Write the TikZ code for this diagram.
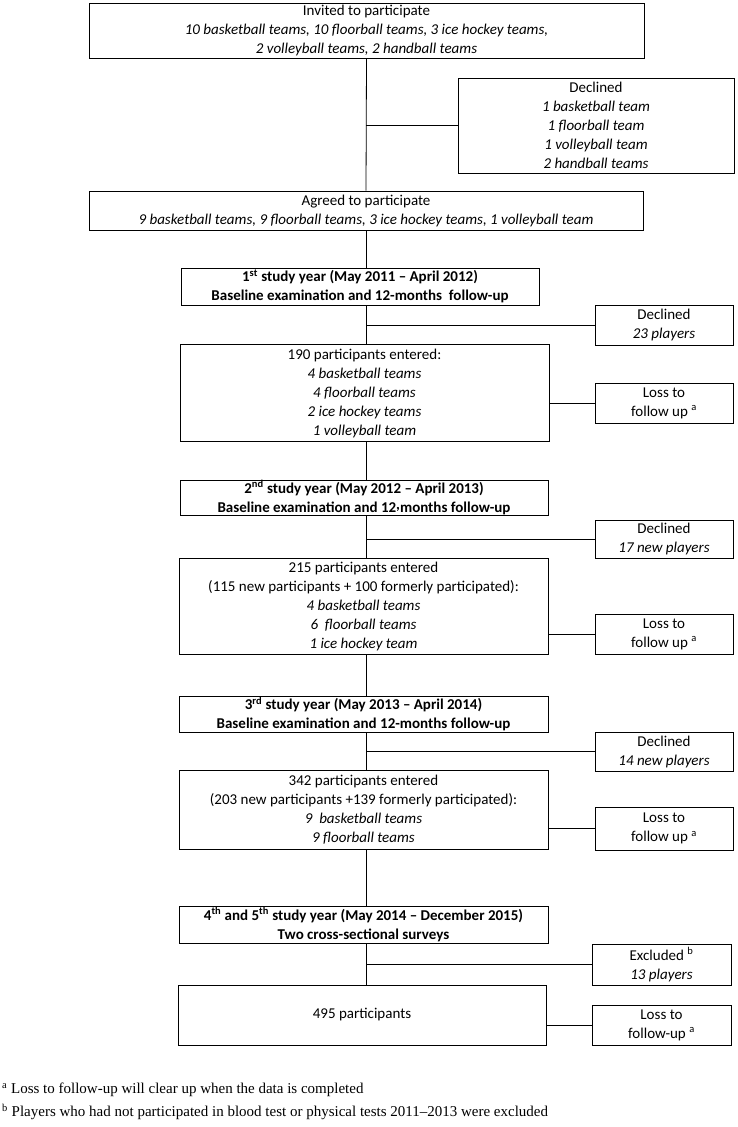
\documentclass[tikz,border=0pt]{standalone}
\usepackage{fontspec}
\setmainfont{Carlito}
\newfontfamily\fnfont[Ligatures=TeX]{Liberation Serif}
\begin{document}
\begin{tikzpicture}[x=1pt,y=-1pt,
  box/.style={draw, line width=0.8pt, inner sep=0pt, align=center,
    font=\fontsize{15}{19}\selectfont},
  link/.style={draw, line width=0.8pt},
  foot/.style={anchor=west, inner sep=0pt, font=\fnfont\fontsize{15}{17}\selectfont}]
\useasboundingbox (0,0) rectangle (737,1127);
\coordinate (sp) at (366,0);
\node[box, minimum width=555, minimum height=55] (invited) at (366.5,30.5)
  {Invited to participate\\ \textit{10 basketball teams, 10 floorball teams, 3 ice hockey teams,}\\ \textit{2 volleyball teams, 2 handball teams}};
\node[box, minimum width=276, minimum height=95] (dec0) at (596,125.5)
  {Declined\\ \textit{1 basketball team}\\ \textit{1 floorball team}\\ \textit{1 volleyball team}\\ \textit{2 handball teams}};
\node[box, minimum width=554, minimum height=39] (agreed) at (366,210.5)
  {Agreed to participate\\ \textit{9 basketball teams, 9 floorball teams, 3 ice hockey teams, 1 volleyball team}};
\node[box, minimum width=358, minimum height=37] (s1) at (360,286.5)
  {\textbf{1\textsuperscript{st} study year (May 2011 -- April 2012)}\\ \textbf{Baseline examination and 12-months\ \ follow-up}};
\node[box, minimum width=138, minimum height=40] (dec1) at (664,325)
  {Declined\\ \textit{23 players}};
\node[box, minimum width=369, minimum height=97] (p1) at (364.5,393)
  {190 participants entered:\\ \textit{4 basketball teams}\\ \textit{4 floorball teams}\\ \textit{2 ice hockey teams}\\ \textit{1 volleyball team}};
\node[box, minimum width=138, minimum height=40] (loss1) at (664,403)
  {Loss to\\ follow up \textsuperscript{a}};
\node[box, minimum width=368, minimum height=35] (s2) at (364,497.5)
  {\textbf{2\textsuperscript{nd} study year (May 2012 -- April 2013)}\\ \textbf{Baseline examination and 12\raisebox{.35ex}{,}months follow-up}};
\node[box, minimum width=138, minimum height=38] (dec2) at (664,539)
  {Declined\\ \textit{17 new players}};
\node[box, minimum width=369, minimum height=96] (p2) at (363.5,606)
  {215 participants entered\\ (115 new participants + 100 formerly participated):\\ \textit{4 basketball teams}\\ \textit{6\ \ floorball teams}\\ \textit{1 ice hockey team}};
\node[box, minimum width=138, minimum height=40] (loss2) at (664,634)
  {Loss to\\ follow up \textsuperscript{a}};
\node[box, minimum width=369, minimum height=36] (s3) at (363.5,714)
  {\textbf{3\textsuperscript{rd} study year (May 2013 -- April 2014)}\\ \textbf{Baseline examination and 12-months follow-up}};
\node[box, minimum width=138, minimum height=39] (dec3) at (664,751.5)
  {Declined\\ \textit{14 new players}};
\node[box, minimum width=369, minimum height=79] (p3) at (363.5,809.5)
  {342 participants entered\\ (203 new participants +139 formerly participated):\\ \textit{9\ \ basketball teams}\\ \textit{9 floorball teams}};
\node[box, minimum width=138, minimum height=43] (loss3) at (664,828.5)
  {Loss to\\ follow up \textsuperscript{a}};
\node[box, minimum width=369, minimum height=37] (s4) at (363.5,924.5)
  {\textbf{4\textsuperscript{th} and 5\textsuperscript{th} study year (May 2014 -- December 2015)}\\ \textbf{Two cross-sectional surveys}};
\node[box, minimum width=139, minimum height=41] (excl) at (661.5,964.5)
  {Excluded \textsuperscript{b}\\ \textit{13 players}};
\node[box, minimum width=368, minimum height=60] (p4) at (362,1015)
  {495 participants};
\node[box, minimum width=139, minimum height=40] (loss4) at (661.5,1025)
  {Loss to\\ follow-up \textsuperscript{a}};
\node[foot] (fa) at (2,1090) {\textsuperscript{a} Loss to follow-up will clear up when the data is completed};
\node[foot] (fb) at (2,1112) {\textsuperscript{b} Players who had not participated in blood test or physical tests 2011--2013 were excluded};
% connectors
\draw[link] (invited.south) -- (agreed.north);
\draw[link] (sp |- dec0.west) -- (dec0.west);
\draw[link] (sp |- agreed.south) -- (sp |- s1.north);
\draw[link] (sp |- s1.south) -- (sp |- p1.north);
\draw[link] (sp |- dec1.west) -- (dec1.west);
\draw[link] (p1.east |- loss1.west) -- (loss1.west);
\draw[link] (sp |- p1.south) -- (sp |- s2.north);
\draw[link] (sp |- s2.south) -- (sp |- p2.north);
\draw[link] (sp |- dec2.west) -- (dec2.west);
\draw[link] (p2.east |- loss2.west) -- (loss2.west);
\draw[link] (sp |- p2.south) -- (sp |- s3.north);
\draw[link] (sp |- s3.south) -- (sp |- p3.north);
\draw[link] (sp |- dec3.west) -- (dec3.west);
\draw[link] (p3.east |- loss3.west) -- (loss3.west);
\draw[link] (sp |- p3.south) -- (sp |- s4.north);
\draw[link] (sp |- s4.south) -- (sp |- p4.north);
\draw[link] (sp |- excl.west) -- (excl.west);
\draw[link] (p4.east |- loss4.west) -- (loss4.west);
\end{tikzpicture}
\end{document}
